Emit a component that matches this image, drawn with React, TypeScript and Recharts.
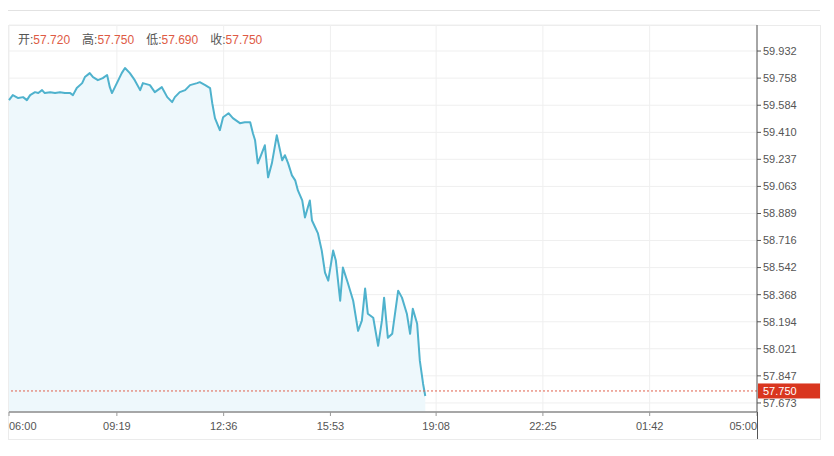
import React from "react"
import { AreaChart, Area, XAxis, YAxis, CartesianGrid, ReferenceLine } from "recharts"

// intraday quotes
const times = [
  "06:00", "06:07", "06:17", "06:26", "06:33", "06:39", "06:48", "06:54", "07:01", "07:06",
  "07:16", "07:25", "07:34", "07:43", "07:53", "07:58", "08:05", "08:15", "08:20", "08:29",
  "08:35", "08:44", "08:53", "09:01", "09:06", "09:10", "09:19", "09:28", "09:34", "09:43",
  "09:52", "10:02", "10:07", "10:20", "10:29", "10:42", "10:52", "11:01", "11:06", "11:15",
  "11:25", "11:34", "11:47", "11:52", "12:02", "12:11", "12:15", "12:20", "12:29", "12:35",
  "12:45", "12:53", "13:06", "13:15", "13:25", "13:30", "13:34", "13:39", "13:47", "13:52",
  "13:58", "14:05", "14:14", "14:24", "14:29", "14:35", "14:42", "14:48", "14:53", "15:01",
  "15:06", "15:15", "15:19", "15:25", "15:30", "15:37", "15:43", "15:49", "15:58", "16:03",
  "16:11", "16:16", "16:25", "16:35", "16:44", "16:51", "16:57", "17:02", "17:12", "17:21",
  "17:28", "17:32", "17:39", "17:47", "17:58", "18:05", "18:14", "18:20", "18:25", "18:33",
  "18:38", "18:44", "18:48",
]
const prices = [
  59.617, 59.649, 59.63, 59.636, 59.617, 59.649, 59.668, 59.662, 59.681, 59.662,
  59.668, 59.662, 59.668, 59.662, 59.662, 59.649, 59.694, 59.726, 59.765, 59.79,
  59.765, 59.745, 59.758, 59.778, 59.7, 59.662, 59.726, 59.79, 59.823, 59.79,
  59.745, 59.681, 59.726, 59.713, 59.668, 59.7, 59.636, 59.604, 59.636, 59.668,
  59.681, 59.713, 59.726, 59.732, 59.713, 59.694, 59.597, 59.501, 59.424, 59.507,
  59.533, 59.501, 59.469, 59.475, 59.475, 59.404, 59.359, 59.211, 59.282, 59.327,
  59.121, 59.211, 59.391, 59.23, 59.263, 59.211, 59.134, 59.102, 59.037, 58.973,
  58.864, 58.973, 58.844, 58.799, 58.761, 58.651, 58.51, 58.458, 58.651, 58.587,
  58.329, 58.542, 58.445, 58.329, 58.136, 58.201, 58.407, 58.246, 58.22, 58.04,
  58.201, 58.349, 58.091, 58.117, 58.394, 58.349, 58.246, 58.117, 58.278, 58.181,
  57.943, 57.795, 57.718,
]

const xTickLabels = ["06:00", "09:19", "12:36", "15:53", "19:08", "22:25", "01:42", "05:00"]
const yTicks = [
  57.673, 57.847, 58.021, 58.194, 58.368, 58.542, 58.716, 58.889, 59.063, 59.237, 59.41, 59.584,
  59.758, 59.932,
]
const lastPrice = 57.75
const ohlc = [
  { label: "开", value: "57.720" },
  { label: "高", value: "57.750" },
  { label: "低", value: "57.690" },
  { label: "收", value: "57.750" },
]

// minutes since session open (06:00), wrapping past midnight
const toMinutes = (s: string) => {
  const [h, m] = s.split(":").map(Number)
  return (h * 60 + m - 360 + 1440) % 1440
}
const xTicks = xTickLabels.map((s, i) => (i === xTickLabels.length - 1 ? 1380 : toMinutes(s)))
const data = times.map((t, i) => ({ t: toMinutes(t), price: prices[i] }))

const fmtTime = (v: number) => {
  const total = (v + 360) % 1440
  const h = Math.floor(total / 60)
  const m = total % 60
  return `${String(h).padStart(2, "0")}:${String(m).padStart(2, "0")}`
}

const FONT = "'Liberation Sans', Arial, sans-serif"

function TimeTick(props: any) {
  const { x, y, payload } = props
  const v = payload.value
  const anchor = v === 0 ? "start" : v === 1380 ? "end" : "middle"
  return (
    <text x={x} y={y + 12} textAnchor={anchor} fill="#555" fontSize={11} fontFamily={FONT}>
      {fmtTime(v)}
    </text>
  )
}

function PriceTag(props: any) {
  const vb = props.viewBox || {}
  const x = vb.x + vb.width + 1
  const y = vb.y
  return (
    <g>
      <rect x={x} y={y - 7.5} width={62} height={15} fill="#d9361f" />
      <text x={x + 5} y={y + 4} fill="#fff" fontSize={11} fontFamily={FONT}>
        {lastPrice.toFixed(3)}
      </text>
    </g>
  )
}

export default function App() {
  return (
    <div style={{ position: "relative", width: 818, height: 440, fontFamily: FONT }}>
      <div style={{ position: "absolute", left: 0, top: 2, width: 812, height: 1, background: "#e2e2e2" }} />
      <div
        style={{
          position: "absolute",
          left: 0,
          top: 17,
          width: 811,
          height: 413,
          border: "1px solid #ebebeb",
        }}
      />
      <div style={{ position: "absolute", left: 0, top: 0 }}>
        <AreaChart width={812} height={431} data={data} margin={{ top: 17, right: 0, left: 1, bottom: 0 }}>
          <CartesianGrid stroke="#efefef" />
          <XAxis
            dataKey="t"
            type="number"
            domain={[0, 1380]}
            ticks={xTicks}
            interval={0}
            height={27}
            tick={<TimeTick />}
            tickSize={4}
            axisLine={{ stroke: "#8c8c8c", strokeWidth: 1.5 }}
            tickLine={{ stroke: "#999" }}
          />
          <YAxis
            orientation="right"
            type="number"
            domain={[57.615, 60.099]}
            ticks={yTicks}
            interval={0}
            width={63}
            tickSize={4}
            tickMargin={2}
            tickFormatter={(v: number) => v.toFixed(3)}
            tick={{ fill: "#555", fontSize: 11, fontFamily: FONT }}
            axisLine={{ stroke: "#555" }}
            tickLine={{ stroke: "#555" }}
            allowDataOverflow
          />
          <Area
            type="linear"
            dataKey="price"
            stroke="#4fb2cd"
            strokeWidth={2}
            strokeLinejoin="round"
            fill="#eef8fc"
            fillOpacity={1}
            dot={false}
            activeDot={false}
            isAnimationActive={false}
          />
          <ReferenceLine
            y={lastPrice}
            stroke="#e0604c"
            strokeDasharray="2 2"
            label={<PriceTag />}
          />
        </AreaChart>
      </div>
      <div style={{ position: "absolute", left: 749, top: 404, width: 1, height: 27, background: "#555" }} />
      <div
        style={{
          position: "absolute",
          left: 10,
          top: 24,
          lineHeight: "16px",
          fontSize: 12,
          fontFamily: "'Liberation Sans', 'Noto Sans CJK SC', sans-serif",
          whiteSpace: "nowrap",
        }}
      >
        {ohlc.map((o) => (
          <span key={o.label} style={{ marginRight: 12 }}>
            <span style={{ color: "#555" }}>{o.label}:</span>
            <span style={{ color: "#de5a45" }}>{o.value}</span>
          </span>
        ))}
      </div>
    </div>
  )
}
